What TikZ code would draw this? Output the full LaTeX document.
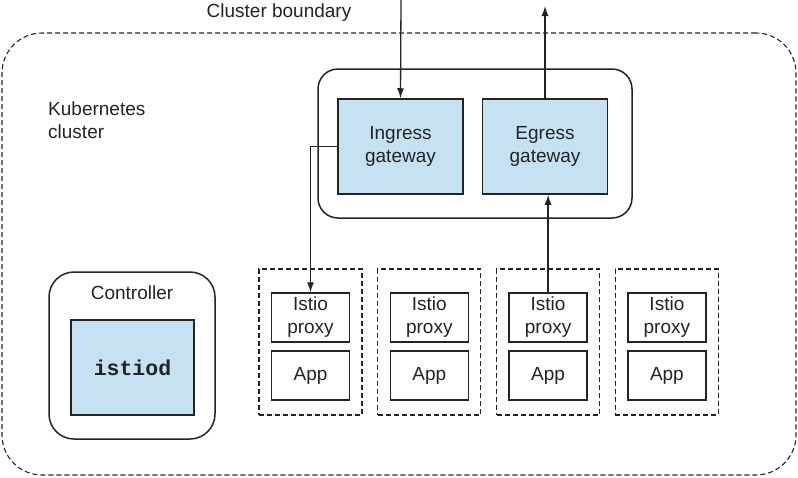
\documentclass[tikz,border=0pt]{standalone}
\usepackage{fontspec}
\setmainfont{Liberation Sans}
\setmonofont{Liberation Mono}
\usepackage{tikz}
\usetikzlibrary{arrows.meta}
\definecolor{gwblue}{RGB}{197,225,242}
\definecolor{ink}{RGB}{35,35,35}

\begin{document}
\begin{tikzpicture}[x=1pt, y=-1pt, font=\fontsize{19}{23}\selectfont, color=ink,
	box/.style = {draw, line width=1.5pt, inner sep=0pt, align=center},
	bluebox/.style = {box, fill = gwblue, minimum width=125pt, minimum height=95pt},
	smallbox/.style = {box, minimum width=78pt, minimum height=49pt},
	podbox/.style = {draw, line width=1.1pt, dash pattern=on 5pt off 3pt, minimum width=103pt, minimum height=146pt},
	arr/.style = {line width=1.3pt, -{Latex[length=10pt,width=7pt]}}]
	\useasboundingbox (0,0) rectangle (798,477);
	\node[draw, line width=1.1pt, dash pattern=on 5pt off 3pt, rounded corners=40pt, minimum width=794pt, minimum height=442pt] (cluster) at (399,254) {};
	\node (boundary) at (279,12.5) {Cluster boundary};
	\node[anchor=base west, align=left, inner sep=0pt] (kube) at (48,138) {Kubernetes\\cluster};
	\node[box, rounded corners=20pt, minimum width=314pt, minimum height=149pt] (gw) at (475,143.5) {};
	\node[bluebox] (ing) at (400.5,146.5) {Ingress\\gateway};
	\node[bluebox] (egr) at (545,146.5) {Egress\\gateway};
	\node[box, rounded corners=25pt, minimum width=166pt, minimum height=167pt] (ctrl) at (132,355.5) {};
	\node (ctrllabel) at (132,293) {Controller};
	\node[bluebox, minimum width=123pt, font=\fontsize{21.5}{24}\selectfont\ttfamily\bfseries] (istiod) at (132.5,367.5) {istiod};
	\foreach \i in {1,...,4} {
		\node[podbox] (pod\i) at (310.5+118.8*\i-118.8,342) {};
		\node[smallbox] (proxy\i) at (310.5+118.8*\i-118.8,317.5) {Istio\\proxy};
		\node[smallbox] (app\i) at (310.5+118.8*\i-118.8,375.5) {App};
	}
	\coordinate (in) at (401,0);
	\coordinate (out) at (545,6);
	\draw[arr] (in) -- (ing.north);
	\draw[arr] (egr.north) -- (out);
	\draw[arr] (ing.west) -| (proxy1.north);
	\draw[arr] (proxy3.north) -- (proxy3.north |- egr.south);
\end{tikzpicture}
\end{document}
